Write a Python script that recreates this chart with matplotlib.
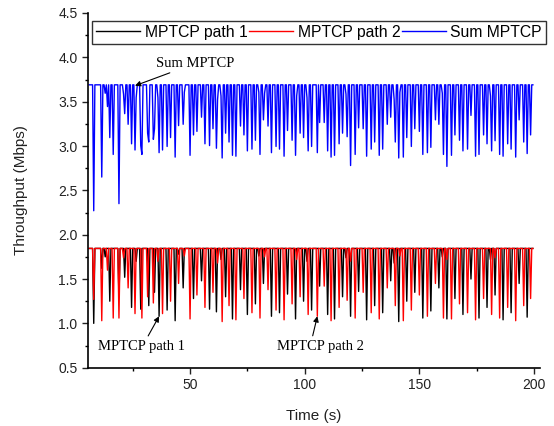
import numpy as np
import matplotlib
matplotlib.use("Agg")
import matplotlib.pyplot as plt

# ---- data ----
t_start, t_end, t_step = 6.0, 199.5, 0.5
path1_base = 1.845
path2_base = 1.845

path1_dip_t = [8, 11.5, 13, 15, 19, 21.5, 24.5, 26.5, 28.5, 32, 34.5, 36.5, 40, 43.5, 45, 47,
               51.5, 55, 58.5, 61.5, 63.5, 65.5, 68.5, 72, 75, 78.5, 80, 82, 85.5, 89, 92.5,
               96, 99.5, 101, 103, 106.5, 110, 113, 116.5, 118, 120, 123.5, 127, 130.5, 134,
               137.5, 139, 141, 144.5, 148, 151.5, 155, 158.5, 160, 162, 165.5, 169, 172.5,
               176, 179.5, 181, 183, 186.5, 190, 193.5, 197]
path1_dip_v = [1.00, 1.62, 1.75, 1.25, 1.29, 1.52, 1.18, 1.70, 1.16, 1.20, 1.35, 1.08, 1.15, 1.03, 1.78, 1.40,
               1.28, 1.48, 1.16, 1.13, 1.72, 1.30, 1.05, 1.38, 1.10, 1.22, 1.76, 1.45, 1.08, 1.12, 1.33,
               1.05, 1.25, 1.70, 1.15, 1.42, 1.10, 1.05, 1.30, 1.74, 1.08, 1.36, 1.04, 1.20, 1.12,
               1.48, 1.68, 1.02, 1.25, 1.35, 1.06, 1.14, 1.40, 1.75, 1.05, 1.28, 1.10, 1.50,
               1.06, 1.18, 1.72, 1.32, 1.04, 1.12, 1.45, 1.07]

path2_dip_t = [8, 11.5, 14, 16.5, 19, 21, 23, 26, 29, 31.5, 34, 36, 38, 41.5, 45, 47.5, 50,
               53, 56.5, 60, 62, 64, 67, 70, 73.5, 77, 80.5, 82.5, 84, 87.5, 91, 94.5, 96.5,
               98, 101.5, 105.5, 108.5, 111.5, 115, 118.5, 120, 122, 125.5, 129, 132.5, 136,
               139.5, 141.5, 143, 146.5, 150, 153.5, 157, 160.5, 162, 164, 167.5, 171, 174.5,
               178, 181.5, 183, 185, 188.5, 192, 195.5, 198.5]
path2_dip_v = [1.27, 1.03, 1.60, 1.06, 1.06, 1.74, 1.40, 1.11, 1.06, 1.30, 1.23, 1.70, 1.11, 1.25, 1.45, 1.76, 1.05,
               1.32, 1.18, 1.35, 1.68, 1.02, 1.20, 1.04, 1.28, 1.12, 1.06, 1.75, 1.38, 1.15, 1.04, 1.22, 1.72,
               1.30, 1.10, 1.08, 1.42, 1.03, 1.18, 1.26, 1.70, 1.06, 1.35, 1.12, 1.05, 1.40,
               1.20, 1.76, 1.03, 1.15, 1.32, 1.08, 1.45, 1.06, 1.72, 1.05, 1.22, 1.12, 1.04,
               1.28, 1.10, 1.74, 1.06, 1.18, 1.03, 1.20, 1.28]

series_names = ["MPTCP path 1", "MPTCP path 2", "Sum MPTCP"]
series_colors = ["black", "red", "blue"]
x_ticks = [50, 100, 150, 200]
y_ticks = [0.5, 1.0, 1.5, 2.0, 2.5, 3.0, 3.5, 4.0, 4.5]

# ---- build series ----
t = np.arange(t_start, t_end + t_step / 2, t_step)
p1 = np.full(len(t), path1_base)
p2 = np.full(len(t), path2_base)
for tt, vv in zip(path1_dip_t, path1_dip_v):
    p1[np.argmin(np.abs(t - tt))] = vv
for tt, vv in zip(path2_dip_t, path2_dip_v):
    p2[np.argmin(np.abs(t - tt))] = vv
psum = p1 + p2

plt.rcParams['font.family'] = ['Liberation Sans', 'DejaVu Sans']

fig = plt.figure(figsize=(5.54, 4.26), dpi=100)
ax = fig.add_axes([88 / 554, 1 - 367.7 / 426, (540 - 88) / 554, (367.7 - 13) / 426])

l1, = ax.plot(t, p1, color=series_colors[0], lw=1.0)
l2, = ax.plot(t, p2, color=series_colors[1], lw=1.0)
l3, = ax.plot(t, psum, color=series_colors[2], lw=1.0)

ax.set_xlim(5.5, 202.6)
ax.set_ylim(0.5, 4.5)
ax.set_xticks(x_ticks)
ax.set_xticks([25, 75, 125, 175], minor=True)
ax.set_yticks(y_ticks)
ax.set_yticks(np.array(y_ticks[:-1]) + 0.25, minor=True)
ax.yaxis.set_major_formatter(matplotlib.ticker.FormatStrFormatter('%.1f'))
ax.tick_params(which='major', direction='out', length=4, width=1, labelsize=10, colors='#222222')
ax.tick_params(which='minor', direction='out', length=2.5, width=1)
for s in ['top', 'right']:
    ax.spines[s].set_visible(False)
for s in ['left', 'bottom']:
    ax.spines[s].set_linewidth(1.2)

ax.set_ylabel("Throughput (Mbps)", fontsize=11, color='#222222', labelpad=22)
ax.set_xlabel("Time (s)", fontsize=11, color='#222222', labelpad=12)

leg = fig.legend([l1, l2, l3], series_names, loc='upper left',
                 bbox_to_anchor=(92 / 554, 1 - 21 / 426), ncol=3, fontsize=11.3,
                 handlelength=2.8, handletextpad=0.3, columnspacing=0.1,
                 borderpad=0.25, borderaxespad=0, fancybox=False, frameon=True)
leg.get_frame().set_edgecolor('black')
leg.get_frame().set_linewidth(1.0)

serif = ['Liberation Serif', 'DejaVu Serif']
ax.annotate("Sum MPTCP", xy=(26.0, 3.68), xytext=(35.0, 3.93), fontsize=10.5, family=serif,
            ha='left', va='center',
            arrowprops=dict(arrowstyle='-|>', color='black', lw=0.8, mutation_scale=8,
                            shrinkA=0, shrinkB=0))
ax.annotate("MPTCP path 1", xy=(36.5, 1.08), xytext=(9.9, 0.74), fontsize=10.5, family=serif,
            ha='left', va='center',
            arrowprops=dict(arrowstyle='-|>', color='black', lw=0.8, mutation_scale=8,
                            shrinkA=1, shrinkB=0, relpos=(0.55, 1.0)))
ax.annotate("MPTCP path 2", xy=(105.5, 1.08), xytext=(87.9, 0.74), fontsize=10.5, family=serif,
            ha='left', va='center',
            arrowprops=dict(arrowstyle='-|>', color='black', lw=0.8, mutation_scale=8,
                            shrinkA=1, shrinkB=0, relpos=(0.4, 1.0)))

fig.savefig("out.png", dpi=100)
